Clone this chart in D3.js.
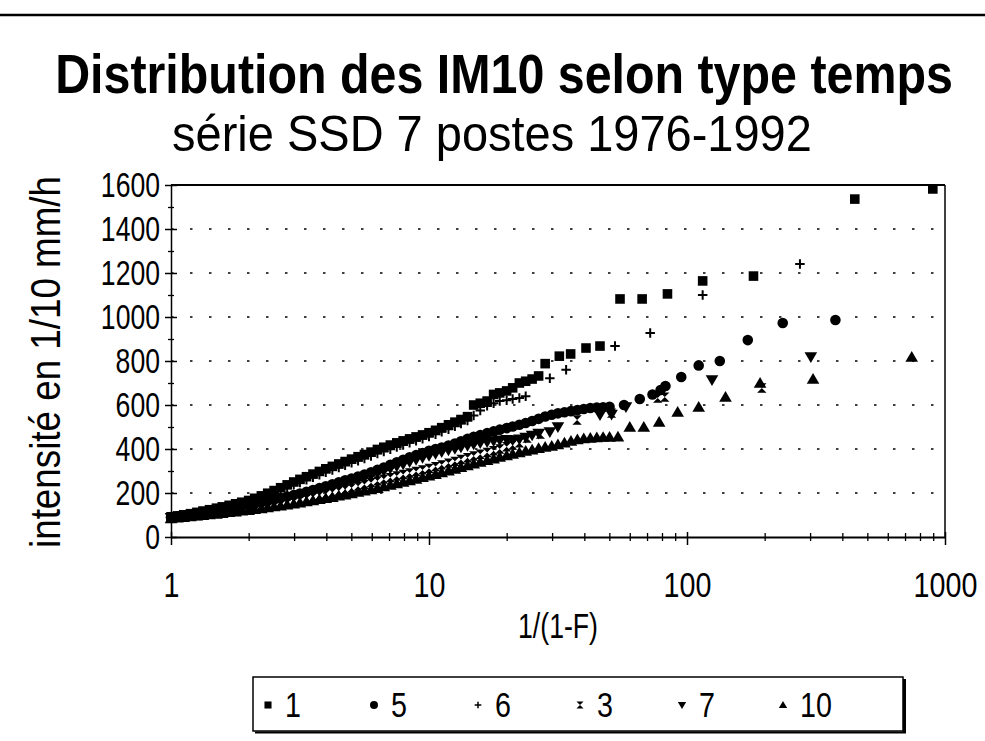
<!DOCTYPE html>
<html><head><meta charset="utf-8">
<script src="https://cdn.jsdelivr.net/npm/d3@7"></script>
<style>
body{margin:0;background:#fff;}
svg{display:block;}
text{font-family:"Liberation Sans",Arial,Helvetica,sans-serif;fill:#000;}
</style>
</head><body><svg id="c" width="985" height="741"></svg>
<script>
// ---------------- DATA ----------------
const titleText = "Distribution des IM10 selon type temps";
const subtitleText = "série SSD 7 postes 1976-1992";
const xTitle = "1/(1-F)";
const yTitle = "intensité en 1/10 mm/h";
const yTickValues = [0,200,400,600,800,1000,1200,1400,1600];
const yMinorTicks = [100,300,500,700,900,1100,1300,1500];
const xTickValues = [1,10,100,1000];
const xMinorTicks = [2,3,4,5,6,7,8,9,20,30,40,50,60,70,80,90,200,300,400,500,600,700,800,900];
const seriesNames = ["1","5","6","3","7","10"];

// shared return periods 1/(1-F) of the dense part
const returnPeriods = [1.00,1.06,1.12,1.19,1.26,1.33,1.41,1.50,1.58,1.68,
 1.78,1.88,2.00,2.11,2.24,2.37,2.51,2.66,2.82,2.99,
 3.16,3.35,3.55,3.76,3.98,4.22,4.47,4.73,5.01,5.31,
 5.62,5.96,6.31,6.68,7.08,7.50,7.94,8.41,8.91,9.44,
 10.0,10.6,11.2,11.9,12.6,13.3,14.1,14.9,15.8,16.8,
 17.8,18.8,20.0,21.1,22.4,23.7,25.1,26.6,28.2,29.9,
 31.6,33.5,35.5,37.6,39.8,42.2,44.7,47.3,50.1];

const dense1 = [92,96,101,106,112,118,124,131,137,144,
 151,158,166,176,187,199,211,224,237,250,
 262,274,286,298,310,321,332,343,354,365,
 375,386,398,408,418,428,437,446,455,464,
 474,485,497,510,522,534,547,600,608,618,
 648,655,664,678,700,708,718,732,788];
const tail1 = [[32,822],[35.4,832],[40.6,859],[46,868],[55,1082],[67,1082],[84,1105],[115,1164],[181,1186],[447,1536],[897,1582]];

const dense5 = [90,93,97,101,105,109,114,119,124,129,
 135,140,146,152,158,164,170,177,184,191,
 198,206,214,222,231,240,249,258,266,275,
 284,294,305,316,328,340,351,362,372,382,
 392,400,407,416,425,435,446,455,463,472,
 480,488,495,502,510,518,527,537,548,556,
 562,567,572,577,582,586,589,590,592];
const tail5 = [[57,600],[65.6,627],[73.5,648],[79,668],[82.5,686],[95,727],[111,780],[134,800],[172,895],[235,973],[376,986]];

const dense6 = [90,94,99,104,109,115,121,127,133,140,
 147,154,161,169,179,190,201,213,225,237,
 248,260,271,283,294,305,316,326,337,347,
 357,368,379,389,399,409,418,428,437,447,
 457,467,478,490,503,516,530,552,575,596,
 608,618,622,627,632,640];
const tail6 = [[29.4,722],[34,760],[52.6,868],[72,927],[115,1100],[274,1241]];

const dense3 = [86,89,92,95,98,102,105,109,113,117,
 121,125,129,133,138,143,148,153,158,164,
 170,176,182,189,195,202,209,216,223,231,
 239,247,255,263,270,277,284,291,298,305,
 312,320,328,336,344,352,360,368,376,384,
 392,400,410,418];
const tail3 = [[22.4,428],[24,450],[27,468],[37.5,532],[51,563],[77,632],[82,636],[195,677]];

const dense7 = [88,92,96,100,104,108,112,117,121,126,
 131,136,141,146,152,158,164,170,176,183,
 190,197,205,213,221,229,237,245,253,262,
 271,280,290,300,311,321,331,341,351,360,
 369,378,386,394,401,408,415,421,427,432,
 436,440,442,441,444,452,462,470];
const tail7 = [[29.4,477],[31.6,500],[46,555],[51,557],[58,591],[125,714],[302,818]];

const dense10 = [84,87,90,93,96,99,102,105,108,112,
 115,119,122,126,130,134,138,142,147,151,
 156,161,166,171,176,181,187,192,198,204,
 210,216,222,229,236,243,250,257,264,271,
 278,285,293,301,309,317,325,333,341,349,
 356,363,370,377,384,391,397,403,409,414,
 420,428,436,443,448,450,452,454,455];
const tail10 = [[54,456],[60,500],[68,500],[78,523],[92,568],[111,591],[141,636],[192,700],[308,718],[743,818]];

// ---------------- BUILD ----------------
function pts(dense, tail){
  return dense.map((v,i)=>[returnPeriods[i], v]).concat(tail);
}
const seriesData = {
  "1": pts(dense1, tail1),
  "5": pts(dense5, tail5),
  "6": pts(dense6, tail6),
  "3": pts(dense3, tail3),
  "7": pts(dense7, tail7),
  "10": pts(dense10, tail10)
};

const hourglass = {draw(ctx,size){const r=Math.sqrt(size)/2;ctx.moveTo(-r,-r);ctx.lineTo(r,-r);ctx.lineTo(0,0);ctx.closePath();ctx.moveTo(-r,r);ctx.lineTo(r,r);ctx.lineTo(0,0);ctx.closePath();}};
const triDown = {draw(ctx,size){const r=Math.sqrt(size)/1.7;ctx.moveTo(-r,-r*0.75);ctx.lineTo(r,-r*0.75);ctx.lineTo(0,r*0.95);ctx.closePath();}};
const triUp = {draw(ctx,size){const r=Math.sqrt(size)/1.7;ctx.moveTo(-r,r*0.75);ctx.lineTo(r,r*0.75);ctx.lineTo(0,-r*0.95);ctx.closePath();}};
const plus = {draw(ctx,size){const r=Math.sqrt(size)/2;ctx.moveTo(-r,0);ctx.lineTo(r,0);ctx.moveTo(0,-r);ctx.lineTo(0,r);}};
const markerType = {"1":d3.symbolSquare,"5":d3.symbolCircle,"6":plus,"3":hourglass,"7":triDown,"10":triUp};
const markerSize = {"1":92,"5":88,"6":90,"3":88,"7":115,"10":115};

const svg = d3.select("#c");
const W=985,H=741;
const pL=171,pR=945,pT=185,pB=537;
const x = d3.scaleLog().domain([1,1000]).range([pL,pR]);
const y = d3.scaleLinear().domain([0,1600]).range([pB,pT]);

// horizontal compression of text (reference font is narrow)
function hscale(sel, px, py, f){
  sel.attr("x",0).attr("y",0).attr("transform",`translate(${px},${py}) scale(${f},1)`);
}
function fitWidth(sel, px, py, target){
  sel.each(function(){const w=this.getComputedTextLength();d3.select(this).call(hscale,px,py,target/w);});
}

// top rule
svg.append("line").attr("x1",0).attr("x2",W).attr("y1",15).attr("y2",15).attr("stroke","#000").attr("stroke-width",2.5);

// titles
svg.append("text").attr("text-anchor","middle")
  .attr("font-size",55).attr("font-weight","bold").text(titleText).call(fitWidth,504,93,898);
svg.append("text").attr("text-anchor","middle")
  .attr("font-size",50).text(subtitleText).call(fitWidth,492,151,640);

// grid
svg.append("g").selectAll("line").data(yTickValues.filter(v=>v>0&&v<1600)).join("line")
  .attr("x1",pL).attr("x2",pR).attr("y1",d=>y(d)).attr("y2",d=>y(d))
  .attr("stroke","#000").attr("stroke-width",1.6).attr("stroke-dasharray","2.5 16.5");

// frame top/right
svg.append("line").attr("x1",pL).attr("x2",pR).attr("y1",pT).attr("y2",pT).attr("stroke","#000").attr("stroke-width",1.8);
svg.append("line").attr("x1",pR).attr("x2",pR).attr("y1",pT).attr("y2",pB).attr("stroke","#000").attr("stroke-width",1.5);

// y axis
const gy = svg.append("g").attr("transform",`translate(${pL},0)`);
gy.call(d3.axisLeft(y).tickValues(yTickValues).tickFormat(d3.format("d")).tickSize(6).tickPadding(5).tickSizeOuter(0));
gy.selectAll(".tick line").attr("x1",6).attr("stroke-width",1.5);
gy.select(".domain").attr("stroke-width",1.5);
gy.selectAll(".tick text").attr("font-size",35).attr("font-family",null)
  .each(function(){d3.select(this).attr("x",0).attr("transform","translate(-11,0) scale(0.76,1)");});
const gym = svg.append("g").attr("transform",`translate(${pL},0)`);
gym.call(d3.axisLeft(y).tickValues(yMinorTicks).tickSize(3).tickFormat("").tickSizeOuter(0));
gym.selectAll(".tick line").attr("x1",3).attr("stroke-width",1.3);
gym.select(".domain").remove();

// x axis
const gx = svg.append("g").attr("transform",`translate(0,${pB})`);
gx.call(d3.axisBottom(x).tickValues(xTickValues).tickFormat(d3.format("d")).tickSize(8).tickPadding(27).tickSizeOuter(0));
gx.selectAll(".tick line").attr("y1",-5).attr("stroke-width",1.5);
gx.select(".domain").attr("stroke-width",1.8);
gx.selectAll(".tick text").attr("font-size",35).attr("font-family",null)
  .each(function(){d3.select(this).attr("y",0).attr("transform","translate(0,35) scale(0.82,1)");});
const gxm = svg.append("g").attr("transform",`translate(0,${pB})`);
gxm.call(d3.axisBottom(x).tickValues(xMinorTicks).tickSize(4).tickFormat("").tickSizeOuter(0));
gxm.selectAll(".tick line").attr("y1",-4).attr("stroke-width",1.3);
gxm.select(".domain").remove();

// axis titles
svg.append("text").attr("text-anchor","middle").attr("font-size",36).text(xTitle).call(fitWidth,558,638,80);
svg.append("g").attr("transform","translate(60,362) rotate(-90)")
  .append("text").attr("text-anchor","middle").attr("font-size",42).text(yTitle).call(fitWidth,0,0,372);

// series
const sym = d3.symbol();
seriesNames.forEach(name=>{
  const isPlus = name==="6";
  svg.append("g").selectAll("path").data(seriesData[name]).join("path")
    .attr("transform",d=>`translate(${x(d[0])},${y(d[1])})`)
    .attr("d",sym.type(markerType[name]).size(markerSize[name])())
    .attr("fill",isPlus?"none":"#000")
    .attr("stroke",isPlus?"#000":"none")
    .attr("stroke-width",isPlus?2:0);
});

// legend
const lg = svg.append("g");
lg.append("rect").attr("x",253).attr("y",677).attr("width",650).attr("height",54).attr("fill","#fff").attr("stroke","#000").attr("stroke-width",1.5);
lg.append("line").attr("x1",904.5).attr("x2",904.5).attr("y1",679).attr("y2",733).attr("stroke","#000").attr("stroke-width",3);
lg.append("line").attr("x1",255).attr("x2",906).attr("y1",732.5).attr("y2",732.5).attr("stroke","#000").attr("stroke-width",2);
const legendMarkX = [268,374,478,580,682,783];
seriesNames.forEach((name,i)=>{
  const isPlus = name==="6";
  lg.append("path").attr("transform",`translate(${legendMarkX[i]},705)`)
    .attr("d",d3.symbol().type(markerType[name]).size(isPlus?44:50)())
    .attr("fill",isPlus?"none":"#000").attr("stroke",isPlus?"#000":"none").attr("stroke-width",isPlus?1.5:0);
  lg.append("text").attr("font-size",35).text(name).call(hscale,legendMarkX[i]+17,717,0.82);
});
</script>
</body></html>
